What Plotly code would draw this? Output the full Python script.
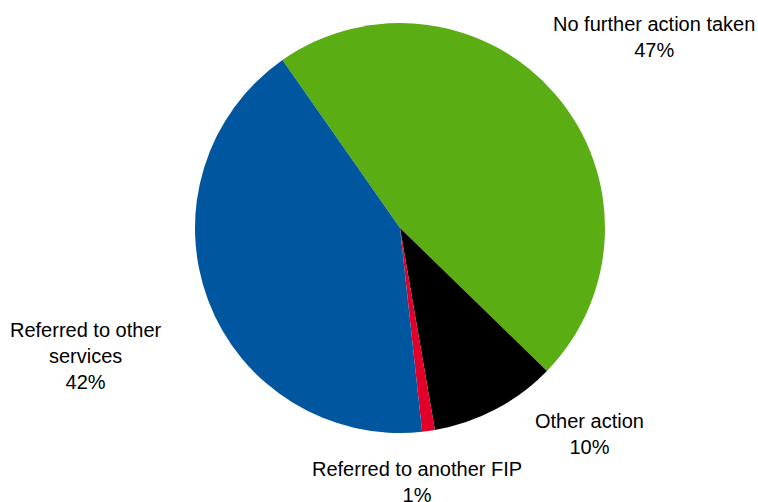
import plotly.graph_objects as go

labels = ["No further action taken", "Other action", "Referred to another FIP", "Referred to other services"]
values = [47, 10, 1, 42]
colors = ["#5BAD14", "#000000", "#E2002B", "#00579F"]
label_text = ["No further action taken<br>47%", "Other action<br>10%",
              "Referred to another FIP<br>1%", "Referred to other<br>services<br>42%"]
label_pos = [(654, 37), (589, 434), (417, 482), (86, 356)]  # pixel centres of labels

W, H = 758, 502
cx, cy, r = 400, 228, 205

fig = go.Figure(go.Pie(
    labels=labels, values=values, sort=False, direction="clockwise", rotation=-35,
    marker=dict(colors=colors, line=dict(width=0)),
    textinfo="none", hoverinfo="label+percent", showlegend=False,
    domain=dict(x=[(cx - r) / W, (cx + r) / W], y=[1 - (cy + r) / H, 1 - (cy - r) / H]),
))

for txt, (px, py) in zip(label_text, label_pos):
    fig.add_annotation(x=px / W, y=1 - py / H, xref="paper", yref="paper", text=txt,
                       showarrow=False, xanchor="center", yanchor="middle", align="center",
                       font=dict(family="Liberation Sans, Arial, sans-serif", size=20, color="#000000"))

fig.update_layout(width=W, height=H, margin=dict(l=0, r=0, t=0, b=0),
                  paper_bgcolor="white", plot_bgcolor="white")
fig.write_html("out.html", config={"displayModeBar": False},
               post_script="document.body.style.margin='0';document.body.style.overflow='hidden';")
